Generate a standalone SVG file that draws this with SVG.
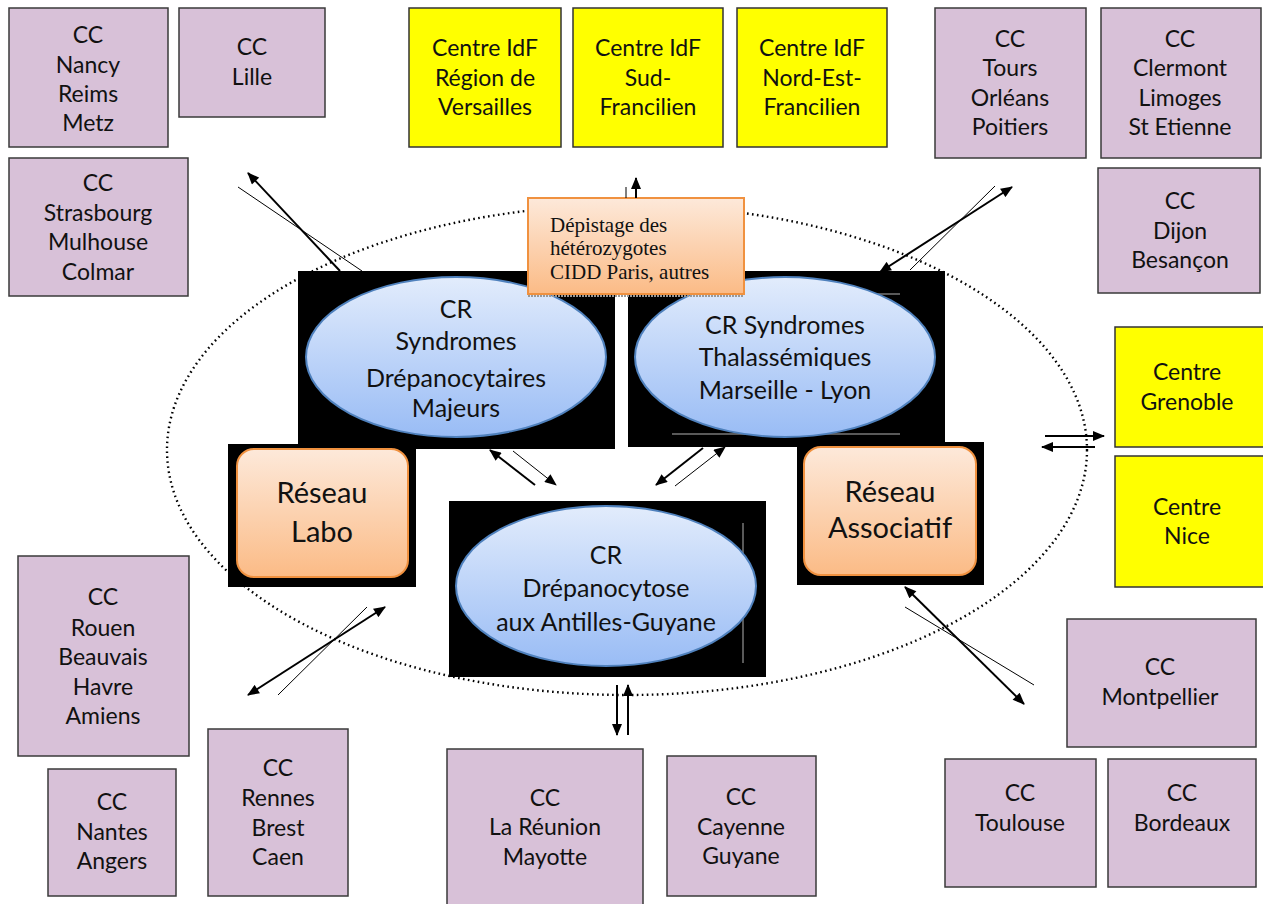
<svg xmlns="http://www.w3.org/2000/svg" width="1263" height="904" viewBox="0 0 1263 904">
<defs>
<style>
.cc{fill:#d8c1d8;stroke:#3a3a3a;stroke-width:1.5}
.yl{fill:#ffff00;stroke:#333;stroke-width:1.5}
.t{font-family:Lato,"Open Sans",sans-serif;font-size:23px;fill:#111;text-anchor:middle}
.te{font-family:Lato,"Open Sans",sans-serif;font-size:25px;fill:#111;text-anchor:middle}
.tr{font-family:Lato,"Open Sans",sans-serif;font-size:29px;fill:#111;text-anchor:middle}
.ts{font-family:"Liberation Serif","Times New Roman",serif;font-size:21px;fill:#111}
.blk{fill:#000}
.ell{fill:url(#gb);stroke:#4f81bd;stroke-width:2}
.org{fill:url(#go);stroke:#f0913f;stroke-width:2}
.thk{stroke:#000;stroke-width:2;fill:none}
.thn{stroke:#000;stroke-width:1;fill:none}
.gl{stroke:#777;stroke-width:1.5}
</style>
<linearGradient id="gb" x1="0" y1="0" x2="0" y2="1"><stop offset="0" stop-color="#e2ecfc"/><stop offset="1" stop-color="#99bcf5"/></linearGradient>
<linearGradient id="go" x1="0" y1="0" x2="0" y2="1"><stop offset="0" stop-color="#fde9da"/><stop offset="1" stop-color="#fbbb86"/></linearGradient>
<marker id="ah" viewBox="0 0 12 10" refX="11" refY="5" markerWidth="13" markerHeight="10" markerUnits="userSpaceOnUse" orient="auto-start-reverse"><path d="M0,0 L12,5 L0,10 z" fill="#000"/></marker>
</defs>
<rect width="1263" height="904" fill="#fff"/>

<ellipse id="perimeter" cx="627" cy="450" rx="460" ry="245" fill="none" stroke="#000" stroke-width="2.4" stroke-dasharray="1.6 3.4"/>

<g id="cc-nancy"><rect class="cc" x="9" y="8" width="159" height="139"/><text class="t" x="88" y="43">CC</text><text class="t" x="88" y="73">Nancy</text><text class="t" x="88" y="102">Reims</text><text class="t" x="88" y="131">Metz</text></g>
<g id="cc-lille"><rect class="cc" x="179" y="8" width="146" height="109"/><text class="t" x="252" y="55">CC</text><text class="t" x="252" y="85">Lille</text></g>
<g id="cc-strasbourg"><rect class="cc" x="9" y="158" width="179" height="138"/><text class="t" x="98" y="191">CC</text><text class="t" x="98" y="221">Strasbourg</text><text class="t" x="98" y="250">Mulhouse</text><text class="t" x="98" y="280">Colmar</text></g>
<g id="idf-versailles"><rect class="yl" x="409" y="8" width="152" height="139"/><text class="t" x="485" y="56">Centre IdF</text><text class="t" x="485" y="86">Région de</text><text class="t" x="485" y="115">Versailles</text></g>
<g id="idf-sud"><rect class="yl" x="573" y="8" width="150" height="139"/><text class="t" x="648" y="56">Centre IdF</text><text class="t" x="648" y="86">Sud-</text><text class="t" x="648" y="115">Francilien</text></g>
<g id="idf-nordest"><rect class="yl" x="737" y="8" width="150" height="139"/><text class="t" x="812" y="56">Centre IdF</text><text class="t" x="812" y="86">Nord-Est-</text><text class="t" x="812" y="115">Francilien</text></g>
<g id="cc-tours"><rect class="cc" x="935" y="8" width="151" height="150"/><text class="t" x="1010" y="47">CC</text><text class="t" x="1010" y="76">Tours</text><text class="t" x="1010" y="106">Orléans</text><text class="t" x="1010" y="135">Poitiers</text></g>
<g id="cc-clermont"><rect class="cc" x="1101" y="8" width="160" height="150"/><text class="t" x="1180" y="47">CC</text><text class="t" x="1180" y="76">Clermont</text><text class="t" x="1180" y="106">Limoges</text><text class="t" x="1180" y="135">St Etienne</text></g>
<g id="cc-dijon"><rect class="cc" x="1098" y="168" width="162" height="125"/><text class="t" x="1180" y="209">CC</text><text class="t" x="1180" y="239">Dijon</text><text class="t" x="1180" y="268">Besançon</text></g>
<g id="centre-grenoble"><rect class="yl" x="1115" y="327" width="150" height="120"/><text class="t" x="1187" y="380">Centre</text><text class="t" x="1187" y="410">Grenoble</text></g>
<g id="centre-nice"><rect class="yl" x="1115" y="456" width="150" height="131"/><text class="t" x="1187" y="515">Centre</text><text class="t" x="1187" y="544">Nice</text></g>
<g id="cc-rouen"><rect class="cc" x="18" y="556" width="171" height="200"/><text class="t" x="103" y="605">CC</text><text class="t" x="103" y="636">Rouen</text><text class="t" x="103" y="665">Beauvais</text><text class="t" x="103" y="695">Havre</text><text class="t" x="103" y="724">Amiens</text></g>
<g id="cc-nantes"><rect class="cc" x="48" y="769" width="128" height="127"/><text class="t" x="112" y="810">CC</text><text class="t" x="112" y="840">Nantes</text><text class="t" x="112" y="869">Angers</text></g>
<g id="cc-rennes"><rect class="cc" x="208" y="729" width="140" height="167"/><text class="t" x="278" y="776">CC</text><text class="t" x="278" y="806">Rennes</text><text class="t" x="278" y="836">Brest</text><text class="t" x="278" y="865">Caen</text></g>
<g id="cc-reunion"><rect class="cc" x="447" y="749" width="196" height="160"/><text class="t" x="545" y="806">CC</text><text class="t" x="545" y="835">La Réunion</text><text class="t" x="545" y="865">Mayotte</text></g>
<g id="cc-cayenne"><rect class="cc" x="667" y="756" width="149" height="140"/><text class="t" x="741" y="805">CC</text><text class="t" x="741" y="835">Cayenne</text><text class="t" x="741" y="864">Guyane</text></g>
<g id="cc-montpellier"><rect class="cc" x="1067" y="619" width="189" height="128"/><text class="t" x="1160" y="675">CC</text><text class="t" x="1160" y="705">Montpellier</text></g>
<g id="cc-toulouse"><rect class="cc" x="945" y="759" width="151" height="128"/><text class="t" x="1020" y="801">CC</text><text class="t" x="1020" y="831">Toulouse</text></g>
<g id="cc-bordeaux"><rect class="cc" x="1108" y="759" width="148" height="128"/><text class="t" x="1182" y="801">CC</text><text class="t" x="1182" y="831">Bordeaux</text></g>

<g id="cr-drepanocytaires"><rect class="blk" x="298" y="271" width="317" height="178"/><ellipse class="ell" cx="456" cy="357" rx="150" ry="80"/><text class="te" x="456" y="318">CR</text><text class="te" x="456" y="350">Syndromes</text><text class="te" x="456" y="387">Drépanocytaires</text><text class="te" x="456" y="417">Majeurs</text></g>
<g id="cr-thalassemiques"><rect class="blk" x="628" y="271" width="317" height="176"/><line class="gl" x1="672" y1="294" x2="900" y2="294"/><line class="gl" x1="672" y1="434" x2="900" y2="434"/><ellipse class="ell" cx="785" cy="357" rx="150" ry="80"/><text class="te" x="785" y="334">CR Syndromes</text><text class="te" x="785" y="366">Thalassémiques</text><text class="te" x="785" y="399">Marseille - Lyon</text></g>
<g id="cr-antilles"><rect class="blk" x="449" y="501" width="317" height="176"/><line class="gl" x1="743" y1="523" x2="743" y2="663"/><ellipse class="ell" cx="606" cy="586" rx="150" ry="80"/><text class="te" x="606" y="564">CR</text><text class="te" x="606" y="597">Drépanocytose</text><text class="te" x="606" y="631">aux Antilles-Guyane</text></g>
<g id="reseau-labo"><rect class="blk" x="228" y="444" width="188" height="143"/><rect class="org" x="237" y="449" width="171" height="128" rx="17"/><text class="tr" x="322" y="503">Réseau</text><text class="tr" x="322" y="542">Labo</text></g>
<g id="reseau-associatif"><rect class="blk" x="797" y="442" width="187" height="143"/><rect class="org" x="804" y="447" width="172" height="128" rx="17"/><text class="tr" x="890" y="502">Réseau</text><text class="tr" x="890" y="538">Associatif</text></g>
<g id="depistage"><line x1="528" y1="296" x2="744" y2="296" stroke="#999" stroke-width="2" stroke-dasharray="2 1"/><rect x="528" y="198" width="216" height="96" fill="url(#go)" stroke="#f0913f" stroke-width="2"/><text class="ts" x="550" y="232">Dépistage des</text><text class="ts" x="550" y="255">hétérozygotes</text><text class="ts" x="550" y="279">CIDD Paris, autres</text></g>

<g id="connectors">
<line class="thk" x1="340" y1="271" x2="248" y2="173" marker-end="url(#ah)"/>
<line class="thn" x1="362" y1="271" x2="238" y2="187"/>
<line class="thk" x1="636" y1="198" x2="636" y2="178" marker-end="url(#ah)"/>
<line class="thn" x1="626" y1="187" x2="626" y2="198"/>
<line class="thk" x1="880" y1="272" x2="1012" y2="187" marker-start="url(#ah)" marker-end="url(#ah)"/>
<line class="thn" x1="910" y1="270" x2="995" y2="186"/>
<line class="thk" x1="535" y1="485" x2="490" y2="450" marker-end="url(#ah)"/>
<line class="thn" x1="513" y1="451" x2="556" y2="485" marker-end="url(#ah)"/>
<line class="thk" x1="703" y1="448" x2="656" y2="485" marker-end="url(#ah)"/>
<line class="thn" x1="675" y1="486" x2="725" y2="447" marker-end="url(#ah)"/>
<line class="thk" x1="385" y1="607" x2="248" y2="695" marker-start="url(#ah)" marker-end="url(#ah)"/>
<line class="thn" x1="367" y1="607" x2="278" y2="695"/>
<line class="thk" x1="905" y1="587" x2="1024" y2="704" marker-start="url(#ah)" marker-end="url(#ah)"/>
<line class="thn" x1="905" y1="607" x2="1034" y2="685"/>
<line class="thk" x1="617" y1="685" x2="617" y2="735" marker-end="url(#ah)"/>
<line class="thk" x1="628" y1="735" x2="628" y2="685" marker-end="url(#ah)"/>
<line class="thk" x1="1045" y1="436" x2="1104" y2="436" marker-end="url(#ah)"/>
<line class="thk" x1="1095" y1="447" x2="1042" y2="447" marker-end="url(#ah)"/>
</g>
</svg>
